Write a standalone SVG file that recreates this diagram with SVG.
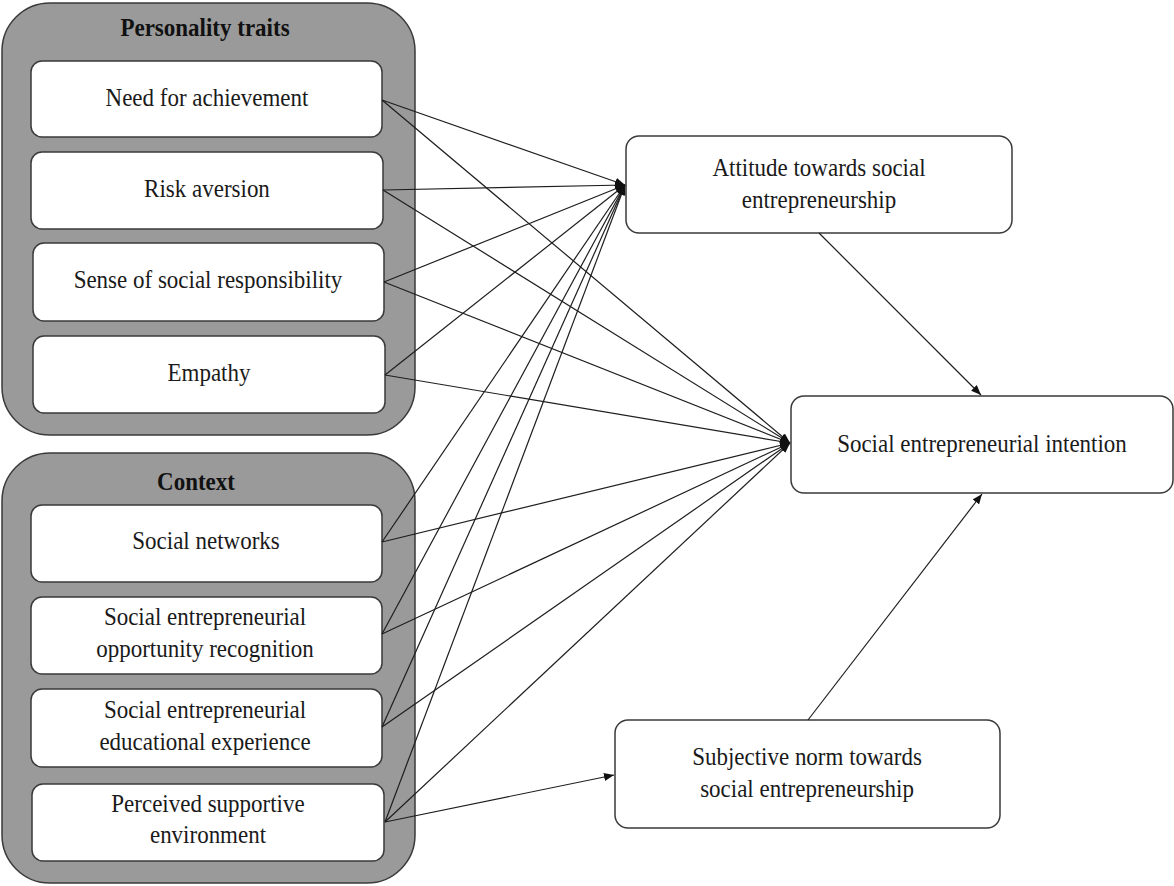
<svg xmlns="http://www.w3.org/2000/svg" width="1174" height="886" viewBox="0 0 1174 886">
  <style>
    .group { fill: #9a9a9a; stroke: #3a3a3a; stroke-width: 1.5; }
    .box { fill: #ffffff; stroke: #3a3a3a; stroke-width: 1.5; }
    .label { font-family: "Liberation Serif", "Times New Roman", serif; font-size: 23px; fill: #1a1a1a; text-anchor: middle; }
    .title { font-family: "Liberation Serif", "Times New Roman", serif; font-size: 23px; font-weight: bold; fill: #111111; text-anchor: middle; }
    .edge { stroke: #1e1e1e; stroke-width: 1.2; fill: none; marker-end: url(#arrow); }
  </style>
  <defs>
    <marker id="arrow" markerUnits="userSpaceOnUse" markerWidth="10" markerHeight="8" refX="10" refY="4" orient="auto">
      <path d="M0,0 L10,4 L0,8 z" fill="#111111"/>
    </marker>
  </defs>
  <rect width="1174" height="886" fill="#ffffff"/>

  <!-- Personality traits cluster -->
  <g id="personality-traits">
    <rect class="group" x="2" y="3" width="413" height="432" rx="48"/>
    <text class="title" transform="translate(205,36) scale(1,1.08)">Personality traits</text>
  </g>
  <g id="need-for-achievement">
    <rect class="box" x="31" y="61" width="351" height="76" rx="11"/>
    <text class="label" transform="translate(207,106) scale(1,1.1)">Need for achievement</text>
  </g>
  <g id="risk-aversion">
    <rect class="box" x="31" y="152" width="352" height="77" rx="11"/>
    <text class="label" transform="translate(207,197) scale(1,1.1)">Risk aversion</text>
  </g>
  <g id="social-responsibility">
    <rect class="box" x="33" y="243" width="351" height="78" rx="11"/>
    <text class="label" transform="translate(208,288) scale(1,1.1)">Sense of social responsibility</text>
  </g>
  <g id="empathy">
    <rect class="box" x="33" y="336" width="352" height="77" rx="11"/>
    <text class="label" transform="translate(209,381) scale(1,1.1)">Empathy</text>
  </g>

  <!-- Context cluster -->
  <g id="context">
    <rect class="group" x="2" y="453" width="413" height="430" rx="48"/>
    <text class="title" transform="translate(196,490) scale(1,1.08)">Context</text>
  </g>
  <g id="social-networks">
    <rect class="box" x="31" y="505" width="351" height="77" rx="11"/>
    <text class="label" transform="translate(206,549) scale(1,1.1)">Social networks</text>
  </g>
  <g id="opportunity-recognition">
    <rect class="box" x="31" y="597" width="351" height="77" rx="11"/>
    <text class="label" transform="translate(205,625) scale(1,1.1)">Social entrepreneurial</text>
    <text class="label" transform="translate(205,657) scale(1,1.1)">opportunity recognition</text>
  </g>
  <g id="educational-experience">
    <rect class="box" x="31" y="689" width="351" height="78" rx="11"/>
    <text class="label" transform="translate(205,718) scale(1,1.1)">Social entrepreneurial</text>
    <text class="label" transform="translate(205,750) scale(1,1.1)">educational experience</text>
  </g>
  <g id="supportive-environment">
    <rect class="box" x="32" y="784" width="352" height="77" rx="11"/>
    <text class="label" transform="translate(208,812) scale(1,1.1)">Perceived supportive</text>
    <text class="label" transform="translate(208,843) scale(1,1.1)">environment</text>
  </g>

  <!-- Outcome constructs -->
  <g id="attitude">
    <rect class="box" x="626" y="136" width="386" height="97" rx="13"/>
    <text class="label" transform="translate(819,176) scale(1,1.1)">Attitude towards social</text>
    <text class="label" transform="translate(819,208) scale(1,1.1)">entrepreneurship</text>
  </g>
  <g id="intention">
    <rect class="box" x="791" y="396" width="382" height="97" rx="13"/>
    <text class="label" transform="translate(982,452) scale(1,1.1)">Social entrepreneurial intention</text>
  </g>
  <g id="subjective-norm">
    <rect class="box" x="615" y="720" width="385" height="108" rx="13"/>
    <text class="label" transform="translate(807,765) scale(1,1.1)">Subjective norm towards</text>
    <text class="label" transform="translate(807,797) scale(1,1.1)">social entrepreneurship</text>
  </g>

  <!-- Paths -->
  <g id="connectors">
    <!-- to attitude -->
    <line class="edge" x1="382" y1="100" x2="625" y2="185"/>
    <line class="edge" x1="383" y1="190" x2="625" y2="185"/>
    <line class="edge" x1="384" y1="282" x2="625" y2="185"/>
    <line class="edge" x1="385" y1="375" x2="625" y2="185"/>
    <line class="edge" x1="382" y1="542" x2="625" y2="185"/>
    <line class="edge" x1="382" y1="634" x2="625" y2="185"/>
    <line class="edge" x1="382" y1="727" x2="625" y2="185"/>
    <line class="edge" x1="385" y1="822" x2="625" y2="185"/>
    <!-- to intention -->
    <line class="edge" x1="382" y1="100" x2="790" y2="443"/>
    <line class="edge" x1="383" y1="190" x2="790" y2="443"/>
    <line class="edge" x1="384" y1="282" x2="790" y2="443"/>
    <line class="edge" x1="385" y1="375" x2="790" y2="443"/>
    <line class="edge" x1="382" y1="542" x2="790" y2="443"/>
    <line class="edge" x1="382" y1="634" x2="790" y2="443"/>
    <line class="edge" x1="382" y1="727" x2="790" y2="443"/>
    <line class="edge" x1="385" y1="822" x2="790" y2="443"/>
    <!-- environment to subjective norm -->
    <line class="edge" x1="385" y1="822" x2="614" y2="775"/>
    <!-- attitude and subjective norm to intention -->
    <line class="edge" x1="819" y1="233" x2="981" y2="395"/>
    <line class="edge" x1="808" y1="720" x2="982" y2="494"/>
  </g>
</svg>
